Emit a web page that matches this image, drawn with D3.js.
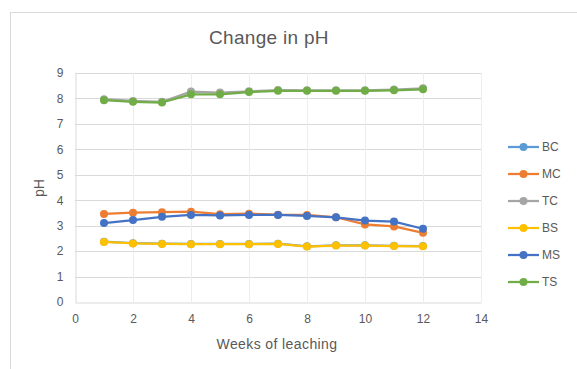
<!DOCTYPE html>
<html>
<head>
<meta charset="utf-8">
<script src="https://cdn.jsdelivr.net/npm/d3@7"></script>
<style>
  html, body { margin: 0; padding: 0; background: #fff; }
  svg { display: block; font-family: "Liberation Sans", Arial, sans-serif; }
</style>
</head>
<body>
<svg id="chart" width="577" height="369"></svg>
<script>
// Weeks of leaching (x values)
const weeks = [1, 2, 3, 4, 5, 6, 7, 8, 9, 10, 11, 12];

// pH readings per treatment
const BC = [2.37, 2.31, 2.29, 2.28, 2.28, 2.28, 2.29, 2.19, 2.23, 2.23, 2.21, 2.20];
const MC = [3.46, 3.51, 3.53, 3.55, 3.45, 3.47, 3.43, 3.42, 3.33, 3.05, 2.97, 2.72];
const TC = [7.97, 7.90, 7.87, 8.27, 8.23, 8.28, 8.33, 8.32, 8.32, 8.32, 8.35, 8.40];
const BS = [2.36, 2.30, 2.28, 2.27, 2.27, 2.27, 2.28, 2.18, 2.22, 2.22, 2.20, 2.19];
const MS = [3.10, 3.22, 3.35, 3.42, 3.40, 3.42, 3.42, 3.38, 3.33, 3.20, 3.16, 2.88];
const TS = [7.93, 7.87, 7.84, 8.16, 8.16, 8.25, 8.30, 8.30, 8.30, 8.30, 8.32, 8.36];

const seriesNames = ["BC", "MC", "TC", "BS", "MS", "TS"];
const seriesValues = [BC, MC, TC, BS, MS, TS];
const seriesColors = ["#5B9BD5", "#ED7D31", "#A5A5A5", "#FFC000", "#4472C4", "#70AD47"];

const xTicks = [0, 2, 4, 6, 8, 10, 12, 14];
const yTicks = [0, 1, 2, 3, 4, 5, 6, 7, 8, 9];

const svg = d3.select("#chart");
const textColor = "#595959";
const gridColor = "#D9D9D9";

// Chart frame
svg.append("rect")
  .attr("x", 10.5).attr("y", 12.5)
  .attr("width", 570).attr("height", 370)
  .attr("fill", "#fff")
  .attr("stroke", "#D9D9D9").attr("stroke-width", 1);

const plot = { left: 75, right: 481, top: 73, bottom: 302 };

const x = d3.scaleLinear().domain([0, 14]).range([plot.left, plot.right]);
const y = d3.scaleLinear().domain([0, 9]).range([plot.bottom, plot.top]);

// Gridlines
const grid = svg.append("g");
grid.selectAll("line.h").data(yTicks.filter(d => d > 0)).join("line")
  .attr("class", "h")
  .attr("x1", plot.left).attr("x2", plot.right)
  .attr("y1", d => Math.round(y(d)) + 0.5).attr("y2", d => Math.round(y(d)) + 0.5)
  .attr("stroke", gridColor).attr("stroke-width", 1);
grid.selectAll("line.v").data(xTicks.filter(d => d > 0)).join("line")
  .attr("class", "v")
  .attr("y1", plot.top).attr("y2", plot.bottom)
  .attr("x1", d => Math.round(x(d)) + 0.5).attr("x2", d => Math.round(x(d)) + 0.5)
  .attr("stroke", "#EDEDED").attr("stroke-width", 1);

// Axes
const xAxis = svg.append("g")
  .attr("transform", `translate(0,${plot.bottom + 0.5})`)
  .call(d3.axisBottom(x).tickValues(xTicks).tickSize(0).tickPadding(12));
const yAxis = svg.append("g")
  .attr("transform", `translate(${plot.left + 0.5},0)`)
  .call(d3.axisLeft(y).tickValues(yTicks).tickSize(0).tickPadding(12));

[xAxis, yAxis].forEach(a => {
  a.select(".domain").attr("stroke", gridColor);
  a.selectAll("text")
    .attr("fill", textColor)
    .style("font-size", "12px")
    .style("font-family", "'Liberation Sans', Arial, sans-serif");
});

// Series lines and markers
const line = d3.line().x((d, i) => x(weeks[i])).y(d => y(d));
seriesValues.forEach((vals, s) => {
  const g = svg.append("g");
  g.append("path")
    .datum(vals)
    .attr("d", line)
    .attr("fill", "none")
    .attr("stroke", seriesColors[s])
    .attr("stroke-width", 2.25)
    .attr("stroke-linejoin", "round");
  g.selectAll("circle").data(vals).join("circle")
    .attr("cx", (d, i) => x(weeks[i]))
    .attr("cy", d => y(d))
    .attr("r", 4)
    .attr("fill", seriesColors[s]);
});

// Title
svg.append("text")
  .attr("x", 269).attr("y", 44)
  .attr("text-anchor", "middle")
  .attr("fill", textColor)
  .style("font-size", "19px")
  .style("letter-spacing", "0.3px")
  .text("Change in pH");

// Axis titles
svg.append("text")
  .attr("x", 277).attr("y", 349)
  .attr("text-anchor", "middle")
  .attr("fill", textColor)
  .style("font-size", "14px")
  .style("letter-spacing", "0.4px")
  .text("Weeks of leaching");

svg.append("text")
  .attr("transform", "translate(44,188) rotate(-90)")
  .attr("text-anchor", "middle")
  .attr("fill", textColor)
  .style("font-size", "14px")
  .text("pH");

// Legend
const legend = svg.append("g");
seriesNames.forEach((name, s) => {
  const ly = 147 + s * 27;
  legend.append("line")
    .attr("x1", 508).attr("x2", 539)
    .attr("y1", ly).attr("y2", ly)
    .attr("stroke", seriesColors[s]).attr("stroke-width", 2.25);
  legend.append("circle")
    .attr("cx", 523.5).attr("cy", ly).attr("r", 4)
    .attr("fill", seriesColors[s]);
  legend.append("text")
    .attr("x", 542).attr("y", ly + 4)
    .attr("fill", textColor)
    .style("font-size", "12px")
    .text(name);
});
</script>
</body>
</html>
